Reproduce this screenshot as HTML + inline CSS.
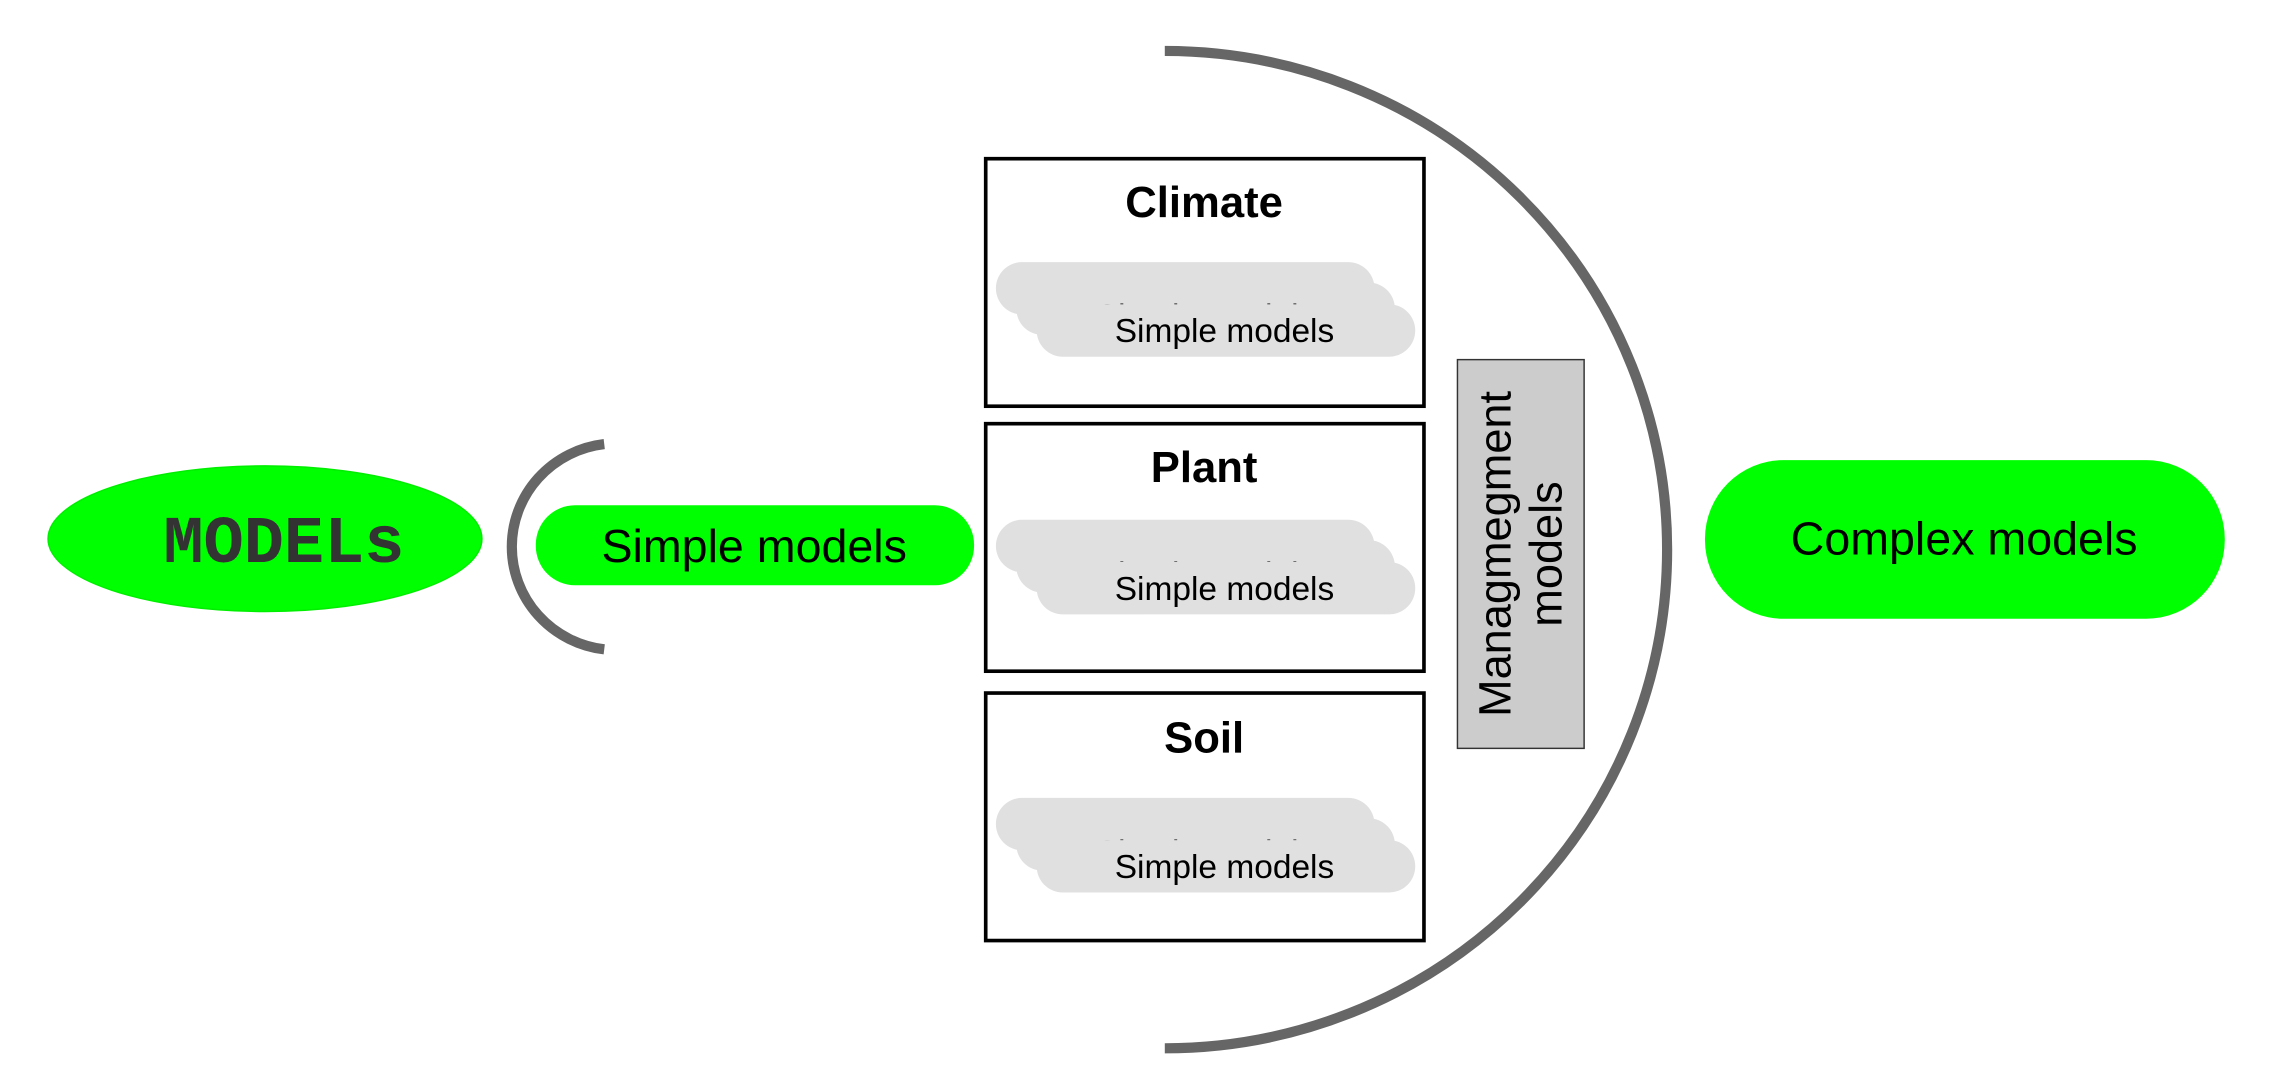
<!DOCTYPE html>
<html><head><meta charset="utf-8"><style>html,body{margin:0;padding:0;background:#fff}svg{display:block}</style></head>
<body>
<svg width="2283" height="1078" viewBox="0 0 1568 740.4" preserveAspectRatio="none" xmlns="http://www.w3.org/2000/svg" font-family="Liberation Sans, sans-serif">
<ellipse cx="182" cy="370" rx="149" ry="50" fill="#00ff00" stroke="#00ee00"/>
<text x="195" y="386" text-anchor="middle" font-family="Liberation Mono, monospace" font-weight="bold" font-size="46" fill="#333">MODELs</text>
<path d="M415,305 A72,71 0 0 0 415,446" fill="none" stroke="#666" stroke-width="7"/>
<rect x="368" y="347" width="301" height="55" rx="27" fill="#00ff00"/>
<text x="518" y="386" text-anchor="middle" font-size="32">Simple models</text>
<path d="M800,35 A345,342.5 0 0 1 800,720" fill="none" stroke="#666" stroke-width="7"/>
<g stroke="#000" stroke-width="2.5" fill="#fff">
<rect x="677" y="109" width="301" height="170"/>
<rect x="677" y="291" width="301" height="170"/>
<rect x="677" y="476" width="301" height="170"/>
</g>
<g font-weight="bold" font-size="30" text-anchor="middle">
<text x="827" y="149">Climate</text>
<text x="827" y="331">Plant</text>
<text x="827" y="517">Soil</text>
</g>
<g font-size="23" text-anchor="middle">
<g>
<rect x="684" y="180" width="260" height="36" rx="18" fill="#e0e0e0"/><text x="814" y="211">Simple models</text>
<rect x="698" y="194" width="260" height="36" rx="18" fill="#e0e0e0"/><text x="828" y="225">Simple models</text>
<rect x="712" y="209" width="260" height="36" rx="18" fill="#e0e0e0"/><text x="841" y="235">Simple models</text>
</g>
<g transform="translate(0,177)">
<rect x="684" y="180" width="260" height="36" rx="18" fill="#e0e0e0"/><text x="814" y="211">Simple models</text>
<rect x="698" y="194" width="260" height="36" rx="18" fill="#e0e0e0"/><text x="828" y="225">Simple models</text>
<rect x="712" y="209" width="260" height="36" rx="18" fill="#e0e0e0"/><text x="841" y="235">Simple models</text>
</g>
<g transform="translate(0,368)">
<rect x="684" y="180" width="260" height="36" rx="18" fill="#e0e0e0"/><text x="814" y="211">Simple models</text>
<rect x="698" y="194" width="260" height="36" rx="18" fill="#e0e0e0"/><text x="828" y="225">Simple models</text>
<rect x="712" y="209" width="260" height="36" rx="18" fill="#e0e0e0"/><text x="841" y="235">Simple models</text>
</g>
</g>
<rect x="1001" y="247" width="87" height="267" fill="#cccccc" stroke="#333" stroke-width="1"/>
<g transform="translate(1044.5,380.5) rotate(-90)" font-size="31" text-anchor="middle">
<text x="0" y="-7">Managmegment</text>
<text x="0" y="28">models</text>
</g>
<rect x="1171" y="316" width="357" height="109" rx="54" fill="#00ff00"/>
<text x="1349" y="381" text-anchor="middle" font-size="32">Complex models</text>
</svg>
</body></html>
